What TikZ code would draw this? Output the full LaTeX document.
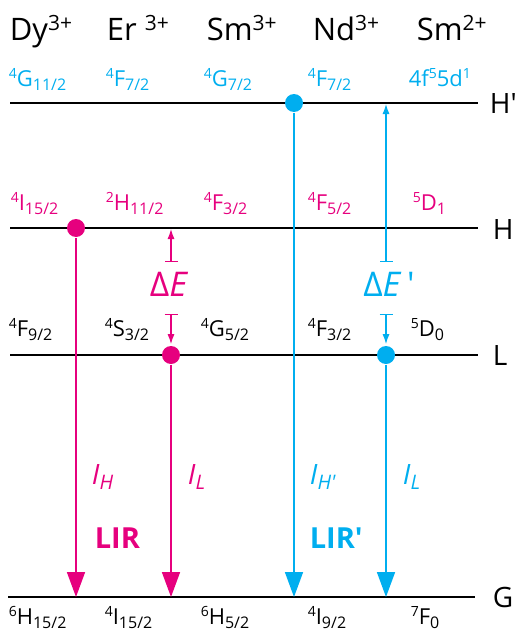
\documentclass[tikz,border=0pt]{standalone}
\usepackage{fontspec}
\setmainfont{Open Sans}
\usepackage{xcolor}
\usetikzlibrary{arrows.meta}
\definecolor{pinkLIR}{RGB}{230,0,126}
\definecolor{blueLIR}{RGB}{0,174,239}
\newcommand{\fsz}[1]{\fontsize{#1}{#1}\selectfont}
\newcommand{\term}[3]{\raisebox{7.5pt}{\fsz{14}#1}#2\raisebox{-4.5pt}{\fsz{16}#3}}
\newcommand{\chg}[1]{\raisebox{10pt}{\fsz{21}#1}}

\begin{document}
\begin{tikzpicture}[x=1pt,y=-1pt,line width=1.7pt]
      \tikzstyle{level}=[draw=black,line width=1.7pt]
      \tikzstyle{dot}=[circle,minimum size=18pt,inner sep=0pt]
      \tikzstyle{state}=[anchor=base west,inner sep=0pt,font=\fsz{22}]
      \tikzstyle{ion}=[anchor=base west,inner sep=0pt,font=\fsz{31}]
      \tikzstyle{lvl}=[anchor=base west,inner sep=0pt,font=\fsz{28}]
      \tikzstyle{emit}=[-{Triangle[length=25pt,width=18pt]},line width=1.7pt]
      \tikzstyle{gap}=[{Bar[width=13pt]}-{Latex[length=10pt,width=7pt]},line width=1.2pt,shorten >=1pt]
      \useasboundingbox (0,0) rectangle (517,634);

      % Ions
      \node[ion] (ion-1) at (9,41) {Dy\chg{3+}};
      \node[ion] (ion-2) at (106,41) {Er \chg{3+}};
      \node[ion] (ion-3) at (206,41) {Sm\chg{3+}};
      \node[ion] (ion-4) at (312,41) {Nd\chg{3+}};
      \node[ion] (ion-5) at (416,41) {Sm\chg{2+}};

      % Energy levels
      \foreach \lv/\y in {Hp/103,H/228,L/355} {
        \coordinate (\lv-w) at (10,\y);
        \coordinate (\lv-e) at (478,\y);
        \draw[level] (\lv-w) -- (\lv-e);
      }
      \coordinate (G-w) at (8,597);
      \coordinate (G-e) at (475,597);
      \draw[level] (G-w) -- (G-e);
      \node[lvl] (lab-Hp) at (489,113) {H\textquotesingle};
      \node[lvl] (lab-H) at (492,239) {H};
      \node[lvl] (lab-L) at (492,365) {L};
      \node[lvl] (lab-G) at (492,607) {G};

      % Level H'
      \node[state,blueLIR] (Hp-1) at (8,86) {\term{4}{G}{11/2}};
      \node[state,blueLIR] (Hp-2) at (105,86) {\term{4}{F}{7/2}};
      \node[state,blueLIR] (Hp-3) at (203,86) {\term{4}{G}{7/2}};
      \node[state,blueLIR] (Hp-4) at (307,86) {\term{4}{F}{7/2}};
      \node[state,blueLIR] (Hp-5) at (408,86) {4f\raisebox{7.5pt}{\fsz{14}5}5d\raisebox{7.5pt}{\fsz{14}1}};

      % Level H
      \node[state,pinkLIR] (H-1) at (10,210) {\term{4}{I}{15/2}};
      \node[state,pinkLIR] (H-2) at (105,210) {\term{2}{H}{11/2}};
      \node[state,pinkLIR] (H-3) at (203,210) {\term{4}{F}{3/2}};
      \node[state,pinkLIR] (H-4) at (307,210) {\term{4}{F}{5/2}};
      \node[state,pinkLIR] (H-5) at (412,210) {\term{5}{D}{1}};

      % Level L
      \node[state] (L-1) at (8,336) {\term{4}{F}{9/2}};
      \node[state] (L-2) at (104,336) {\term{4}{S}{3/2}};
      \node[state] (L-3) at (200,336) {\term{4}{G}{5/2}};
      \node[state] (L-4) at (307,336) {\term{4}{F}{3/2}};
      \node[state] (L-5) at (410,336) {\term{5}{D}{0}};

      % Level G
      \node[state] (G-1) at (8,624) {\term{6}{H}{15/2}};
      \node[state] (G-2) at (104,624) {\term{4}{I}{15/2}};
      \node[state] (G-3) at (200,624) {\term{6}{H}{5/2}};
      \node[state] (G-4) at (307,624) {\term{4}{I}{9/2}};
      \node[state] (G-5) at (410,624) {\term{7}{F}{0}};

      % Populated states
      \node[dot,fill=pinkLIR] (pH) at (76,228) {};
      \node[dot,fill=pinkLIR] (pL) at (171,355) {};
      \node[dot,fill=blueLIR] (bH) at (294,103) {};
      \node[dot,fill=blueLIR] (bL) at (386,355) {};

      % Emissions
      \foreach \n/\x in {1/76,2/171,3/294,4/386}
        \coordinate (g\n) at (\x,597);
      \draw[emit,pinkLIR] (pH) -- (g1);
      \draw[emit,pinkLIR] (pL) -- (g2);
      \draw[emit,blueLIR] (bH) -- (g3);
      \draw[emit,blueLIR] (bL) -- (g4);
      \node[anchor=base west,inner sep=0pt,pinkLIR,font=\fsz{28}] (IH) at (91,484) {\textit{I}\raisebox{-5pt}{\fsz{20}\textit{H}}};
      \node[anchor=base west,inner sep=0pt,pinkLIR,font=\fsz{28}] (IL) at (187,484) {\textit{I}\raisebox{-5pt}{\fsz{20}\textit{L}}};
      \node[anchor=base west,inner sep=0pt,blueLIR,font=\fsz{28}] (IHp) at (309,484) {\textit{I}\raisebox{-5pt}{\fsz{20}\textit{H\textquotesingle}}};
      \node[anchor=base west,inner sep=0pt,blueLIR,font=\fsz{28}] (ILb) at (402,484) {\textit{I}\raisebox{-5pt}{\fsz{20}\textit{L}}};
      \node[anchor=base west,inner sep=0pt,pinkLIR,font=\fsz{29}\bfseries] (LIR) at (94,548) {LIR};
      \node[anchor=base west,inner sep=0pt,blueLIR,font=\fsz{29}\bfseries] (LIRp) at (309,548) {LIR\textquotesingle};

      % Energy gaps
      \node[anchor=base,inner sep=0pt,pinkLIR,font=\fsz{34}] (dE) at (169,296) {Δ\textit{E}};
      \node[anchor=base,inner sep=0pt,blueLIR,font=\fsz{34}] (dEp) at (389,296) {Δ\textit{E}\,\textquotesingle};
      \coordinate (dE-a) at (171,262);
      \coordinate (dE-b) at (171,314);
      \coordinate (dE-H) at (171,228);
      \coordinate (dEp-a) at (386,262);
      \coordinate (dEp-b) at (386,314);
      \coordinate (dEp-H) at (386,103);
      \draw[gap,pinkLIR] (dE-a) -- (dE-H);
      \draw[gap,pinkLIR] (dE-b) -- (pL);
      \draw[gap,blueLIR] (dEp-a) -- (dEp-H);
      \draw[gap,blueLIR] (dEp-b) -- (bL);
\end{tikzpicture}
\end{document}
